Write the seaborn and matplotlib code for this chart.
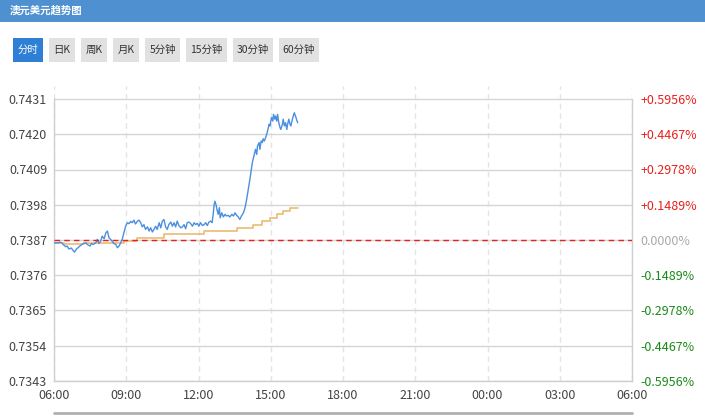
import matplotlib
matplotlib.use("Agg")
import matplotlib.pyplot as plt
from matplotlib.patches import Rectangle
from matplotlib.lines import Line2D
import seaborn as sns
import pandas as pd

# ---------------- data ----------------
title = "澳元美元趋势图"
buttons = ["分时", "日K", "周K", "月K", "5分钟", "15分钟", "30分钟", "60分钟"]
base_price = 0.7387
y_ticks = [0.7343, 0.7354, 0.7365, 0.7376, 0.7387, 0.7398, 0.7409, 0.7420, 0.7431]
pct_labels = ["-0.5956%", "-0.4467%", "-0.2978%", "-0.1489%", "0.0000%",
              "+0.1489%", "+0.2978%", "+0.4467%", "+0.5956%"]
x_tick_labels = ["06:00", "09:00", "12:00", "15:00", "18:00", "21:00", "00:00", "03:00", "06:00"]

# minutes after 06:00
price_minutes = [0, 8, 17, 23, 29, 33, 37, 43, 48, 51, 56, 60, 66, 73, 79, 83, 90, 93, 98, 104,
                 108, 112, 116, 120, 125, 129, 133, 137, 141, 145, 149, 154, 158, 162, 166, 170,
                 174, 179, 183, 187, 191, 195, 199, 203, 208, 212, 216, 220, 224, 228, 233, 237,
                 241, 245, 249, 253, 257, 262, 266, 270, 274, 278, 282, 286, 291, 295, 299, 303,
                 307, 311, 316, 320, 324, 328, 332, 336, 340, 345, 349, 353, 357, 361, 365, 370,
                 374, 378, 382, 386, 390,
                 394, 397, 399, 401, 404, 406, 409, 412, 414, 418, 422, 426, 430, 434, 438, 443,
                 447, 451, 455, 459, 463, 467, 472, 476, 480, 484, 488, 491, 494, 497, 499, 502,
                 505, 507, 511, 513, 516, 519, 521, 524, 527, 530, 532, 536, 538, 541, 542, 545,
                 547, 550, 552, 555, 557, 560, 563, 565, 569, 571, 574, 577, 580, 582, 585, 588,
                 590, 594, 596, 599, 600, 603, 604, 607]
price_values = [0.73861, 0.73861, 0.73863, 0.73856, 0.73849, 0.73851, 0.73842, 0.73845, 0.73837,
                0.73832, 0.73842, 0.73846, 0.73853, 0.73859, 0.73861, 0.73856, 0.73851, 0.73859,
                0.73856, 0.73861, 0.73872, 0.73859, 0.73866, 0.73882, 0.73874, 0.73892, 0.73898,
                0.73877, 0.73872, 0.73866, 0.73859, 0.73856, 0.73846, 0.73851, 0.73861, 0.73872,
                0.73892, 0.73915, 0.73924, 0.73921, 0.73928, 0.73924, 0.73932, 0.73920, 0.73929,
                0.73932, 0.73924, 0.73911, 0.73918, 0.73903, 0.73911, 0.73898, 0.73908, 0.73895,
                0.73903, 0.73913, 0.73903, 0.73924, 0.73908, 0.73929, 0.73934, 0.73911, 0.73903,
                0.73918, 0.73926, 0.73913, 0.73924, 0.73911, 0.73929, 0.73915, 0.73908, 0.73911,
                0.73918, 0.73905, 0.73924, 0.73926, 0.73922, 0.73913, 0.73924, 0.73918, 0.73922,
                0.73913, 0.73924, 0.73915, 0.73918, 0.73924, 0.73915, 0.73926, 0.73929,
                0.73924, 0.73955, 0.73981, 0.73991, 0.73978, 0.73965, 0.73950, 0.73971, 0.73939,
                0.73955, 0.73942, 0.73950, 0.73945, 0.73947, 0.73942, 0.73950, 0.73945, 0.73955,
                0.73947, 0.73942, 0.73934, 0.73945, 0.73955, 0.73971, 0.73997, 0.74028, 0.74059,
                0.74085, 0.74111, 0.74127, 0.74137, 0.74153, 0.74137, 0.74163, 0.74174, 0.74153,
                0.74179, 0.74174, 0.74186, 0.74179, 0.74189, 0.74200, 0.74210, 0.74231, 0.74226,
                0.74247, 0.74252, 0.74241, 0.74262, 0.74247, 0.74257, 0.74241, 0.74262, 0.74236,
                0.74221, 0.74215, 0.74231, 0.74247, 0.74226, 0.74236, 0.74215, 0.74231, 0.74247,
                0.74231, 0.74226, 0.74247, 0.74257, 0.74267, 0.74262, 0.74252, 0.74247, 0.74236]

avg_minutes = [0, 25, 75, 174, 208, 274, 374, 455, 497, 517, 538, 555, 571, 588, 607]
avg_values = [0.73861, 0.73856, 0.73861, 0.73866, 0.73877, 0.73890, 0.73898, 0.73908,
              0.73918, 0.73929, 0.73939, 0.73950, 0.73960, 0.73970, 0.73970]

# ---------------- style ----------------
sns.set_style("white")
plt.rcParams["font.family"] = ["Noto Sans CJK SC", "DejaVu Sans"]

W, H = 705, 417
fig = plt.figure(figsize=(W / 100, H / 100), dpi=100)

def fx(px):
    return px / W

def fy(py):
    return 1 - py / H

# header band
fig.add_artist(Rectangle((0, fy(22)), 1, 22 / H, transform=fig.transFigure,
                         facecolor="#4e90d0", edgecolor="none"))
fig.text(fx(10), fy(11), title, color="white", fontsize=7.5, fontweight="bold",
         va="center", ha="left")

# buttons
btn_x = [(13, 43), (49, 75), (81, 107), (113, 139), (145, 180), (186, 227), (233, 273), (279, 319)]
for i, (lbl, (x0, x1)) in enumerate(zip(buttons, btn_x)):
    active = i == 0
    fig.add_artist(Rectangle((fx(x0), fy(62)), (x1 - x0) / W, 24 / H, transform=fig.transFigure,
                             facecolor="#2f7fd6" if active else "#e1e1e1", edgecolor="none"))
    fig.text(fx((x0 + x1) / 2), fy(50), lbl, color="white" if active else "#333333",
             fontsize=7.5, ha="center", va="center")

# main axes
top_px, bot_px, left_px, right_px = 86, 381, 54, 632
ax = fig.add_axes([fx(left_px), fy(bot_px), (right_px - left_px) / W, (bot_px - top_px) / H])
px_per_unit = (381 - 99) / (y_ticks[-1] - y_ticks[0])
ylim = (y_ticks[0], y_ticks[0] + (bot_px - top_px) / px_per_unit)

df_price = pd.DataFrame({"t": price_minutes, "p": price_values})
df_avg = pd.DataFrame({"t": avg_minutes, "p": avg_values})

sns.lineplot(data=df_avg, x="t", y="p", ax=ax, color="#ebbb73", lw=1.2,
             drawstyle="steps-post", estimator=None, zorder=3)
sns.lineplot(data=df_price, x="t", y="p", ax=ax, color="#4a8fe0", lw=1.0,
             estimator=None, zorder=4)
ax.axhline(base_price, color="#e8201c", lw=1.0, ls=(0, (4, 3)), zorder=5)

ax.set_xlim(0, 1440)
ax.set_ylim(*ylim)
ax.set_xticks([i * 180 for i in range(len(x_tick_labels))])
ax.set_xticklabels(x_tick_labels)
ax.set_yticks(y_ticks)
ax.set_yticklabels([f"{v:.4f}" for v in y_ticks])
ax.set_xlabel("")
ax.set_ylabel("")
ax.tick_params(axis="both", length=0, labelsize=9, colors="#444444")
ax.tick_params(axis="y", pad=5)
ax.tick_params(axis="x", pad=6)

ax.yaxis.grid(True, color="#d6d6d6", lw=1, ls="-")
ax.xaxis.grid(True, color="#e4e4e4", lw=1, ls=(0, (4, 3)))
ax.set_axisbelow(True)

for s in ["left", "right", "bottom"]:
    ax.spines[s].set_visible(True)
    ax.spines[s].set_color("#cfcfcf")
    ax.spines[s].set_linewidth(1)
ax.spines["left"].set_bounds(y_ticks[0], y_ticks[-1])
ax.spines["right"].set_bounds(y_ticks[0], y_ticks[-1])
ax.spines["top"].set_visible(False)

# right percentage axis
ax2 = ax.twinx()
ax2.set_ylim(*ylim)
ax2.set_yticks(y_ticks)
ax2.set_yticklabels(pct_labels)
ax2.tick_params(axis="y", length=0, labelsize=9, pad=6)
for lbl, txt in zip(ax2.get_yticklabels(), pct_labels):
    if txt.startswith("+"):
        lbl.set_color("#e8201c")
    elif txt.startswith("-"):
        lbl.set_color("#1a8a1a")
    else:
        lbl.set_color("#aaaaaa")
for s in ax2.spines.values():
    s.set_visible(False)
ax2.grid(False)

# bottom scrollbar line
fig.add_artist(Line2D([fx(54), fx(632)], [fy(413), fy(413)], transform=fig.transFigure,
                      color="#b0b0b0", lw=2))

fig.savefig("out.png", dpi=100)
